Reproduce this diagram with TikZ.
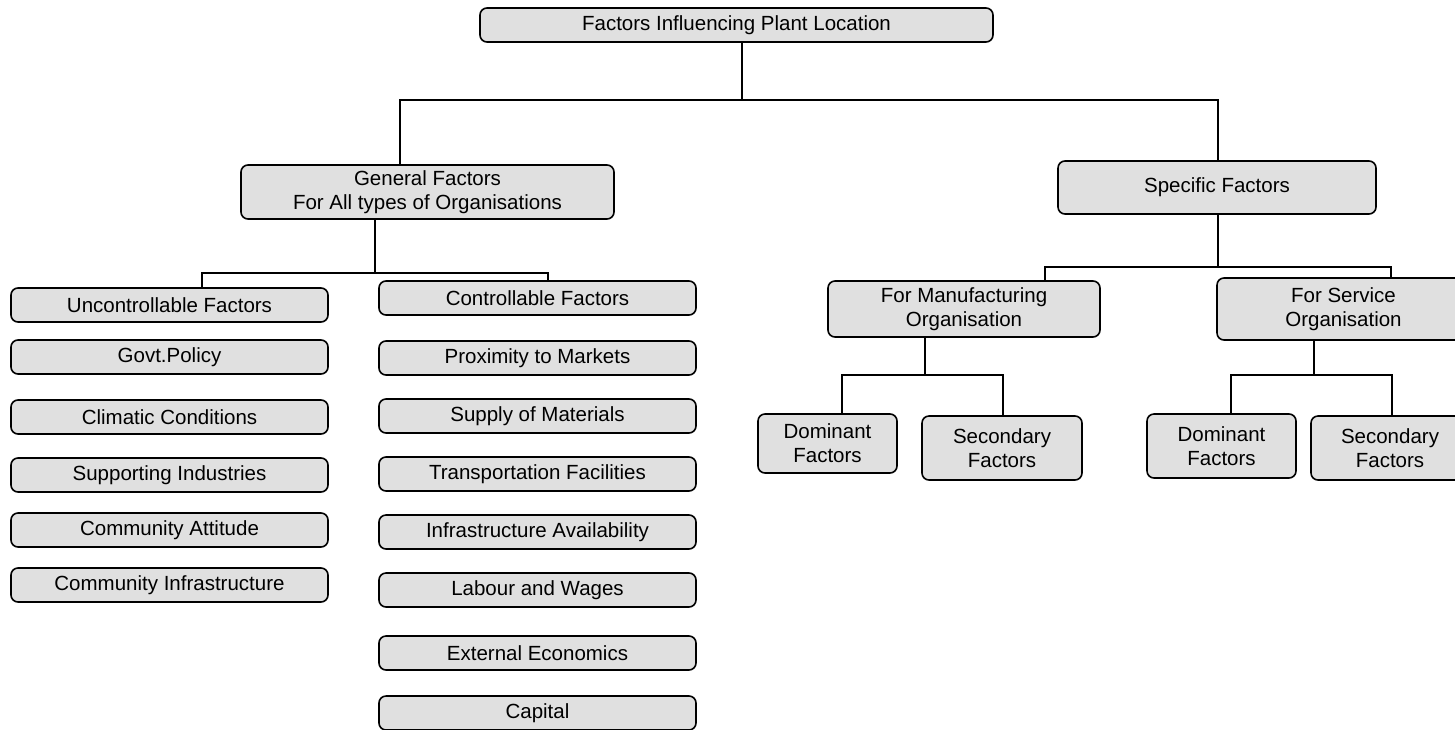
\documentclass[tikz,border=0pt]{standalone}
\usepackage{fontspec}
\setmainfont{Liberation Sans}
\definecolor{boxgray}{RGB}{224,224,224}
\begin{document}
\begin{tikzpicture}[x=1pt,y=-1pt,
  box/.style={draw=black, line width=1.6pt, fill=boxgray, rounded corners=7pt, inner sep=0pt, align=center, font=\fontsize{20.5}{24}\selectfont},
  colbox/.style={box, minimum width=317pt, minimum height=34pt},
  link/.style={draw=black, line width=1.6pt}]
\useasboundingbox (0,0) rectangle (1455,729);

% top and second level
\node[box, minimum width=513pt, minimum height=34pt] (top) at (736.5,25) {Factors Influencing Plant Location};
\node[box, minimum width=373pt, minimum height=54pt] (gen) at (427.5,192) {General Factors\\For All types of Organisations};
\node[box, minimum width=318pt, minimum height=53pt] (spec) at (1217,187.5) {Specific Factors};

% left column
\node[colbox] (unc)  at (169.5,305) {Uncontrollable Factors};
\node[colbox] (govt) at (169.5,357) {Govt.Policy};
\node[colbox] (clim) at (169.5,417) {Climatic Conditions};
\node[colbox] (supp) at (169.5,475) {Supporting Industries};
\node[colbox] (catt) at (169.5,530) {Community Attitude};
\node[colbox] (cinf) at (169.5,585) {Community Infrastructure};

% right column
\node[colbox] (ctrl) at (537.5,298) {Controllable Factors};
\node[colbox] (prox) at (537.5,358) {Proximity to Markets};
\node[colbox] (supl) at (537.5,416) {Supply of Materials};
\node[colbox] (tran) at (537.5,474) {Transportation Facilities};
\node[colbox] (infr) at (537.5,532) {Infrastructure Availability};
\node[colbox] (lab)  at (537.5,590) {Labour and Wages};
\node[colbox] (ext)  at (537.5,653) {External Economics};
\node[colbox] (cap)  at (537.5,713) {Capital};

% specific branch
\node[box, minimum width=272pt, minimum height=56pt] (man) at (964,309) {For Manufacturing\\Organisation};
\node[box, minimum width=253pt, minimum height=62pt] (svc) at (1343.5,309) {For Service\\Organisation};
\node[box, minimum width=139pt, minimum height=59pt] (md) at (827.5,443.5) {Dominant\\Factors};
\node[box, minimum width=160pt, minimum height=64pt] (ms) at (1002,448) {Secondary\\Factors};
\node[box, minimum width=149pt, minimum height=64pt] (vd) at (1221.5,446) {Dominant\\Factors};
\node[box, minimum width=158pt, minimum height=64pt] (vs) at (1390,448) {Secondary\\Factors};

% junctions
\coordinate (b1) at (742,100);
\coordinate (gL) at (400,100);
\coordinate (sR) at (1218,100);
\coordinate (g0) at (375,273);
\coordinate (gl) at (202,273);
\coordinate (gr) at (548,273);
\coordinate (s0) at (1218,267);
\coordinate (sl) at (1045,267);
\coordinate (sr) at (1391,267);
\coordinate (m0) at (925,375);
\coordinate (ml) at (842,375);
\coordinate (mr) at (1003,375);
\coordinate (v0) at (1314,375);
\coordinate (vl) at (1231,375);
\coordinate (vr) at (1392,375);

% connectors
\draw[link] (top.south -| b1) -- (b1);
\draw[link] (gen.north -| gL) -- (gL) -- (sR) -- (spec.north -| sR);
\draw[link] (gen.south -| g0) -- (g0);
\draw[link] (unc.north -| gl) |- (gr) -- (ctrl.north -| gr);
\draw[link] (spec.south -| s0) -- (s0);
\draw[link] (man.north -| sl) |- (sr) -- (svc.north -| sr);
\draw[link] (man.south -| m0) -- (m0);
\draw[link] (md.north -| ml) |- (mr) -- (ms.north -| mr);
\draw[link] (svc.south -| v0) -- (v0);
\draw[link] (vd.north -| vl) |- (vr) -- (vs.north -| vr);
\end{tikzpicture}
\end{document}
